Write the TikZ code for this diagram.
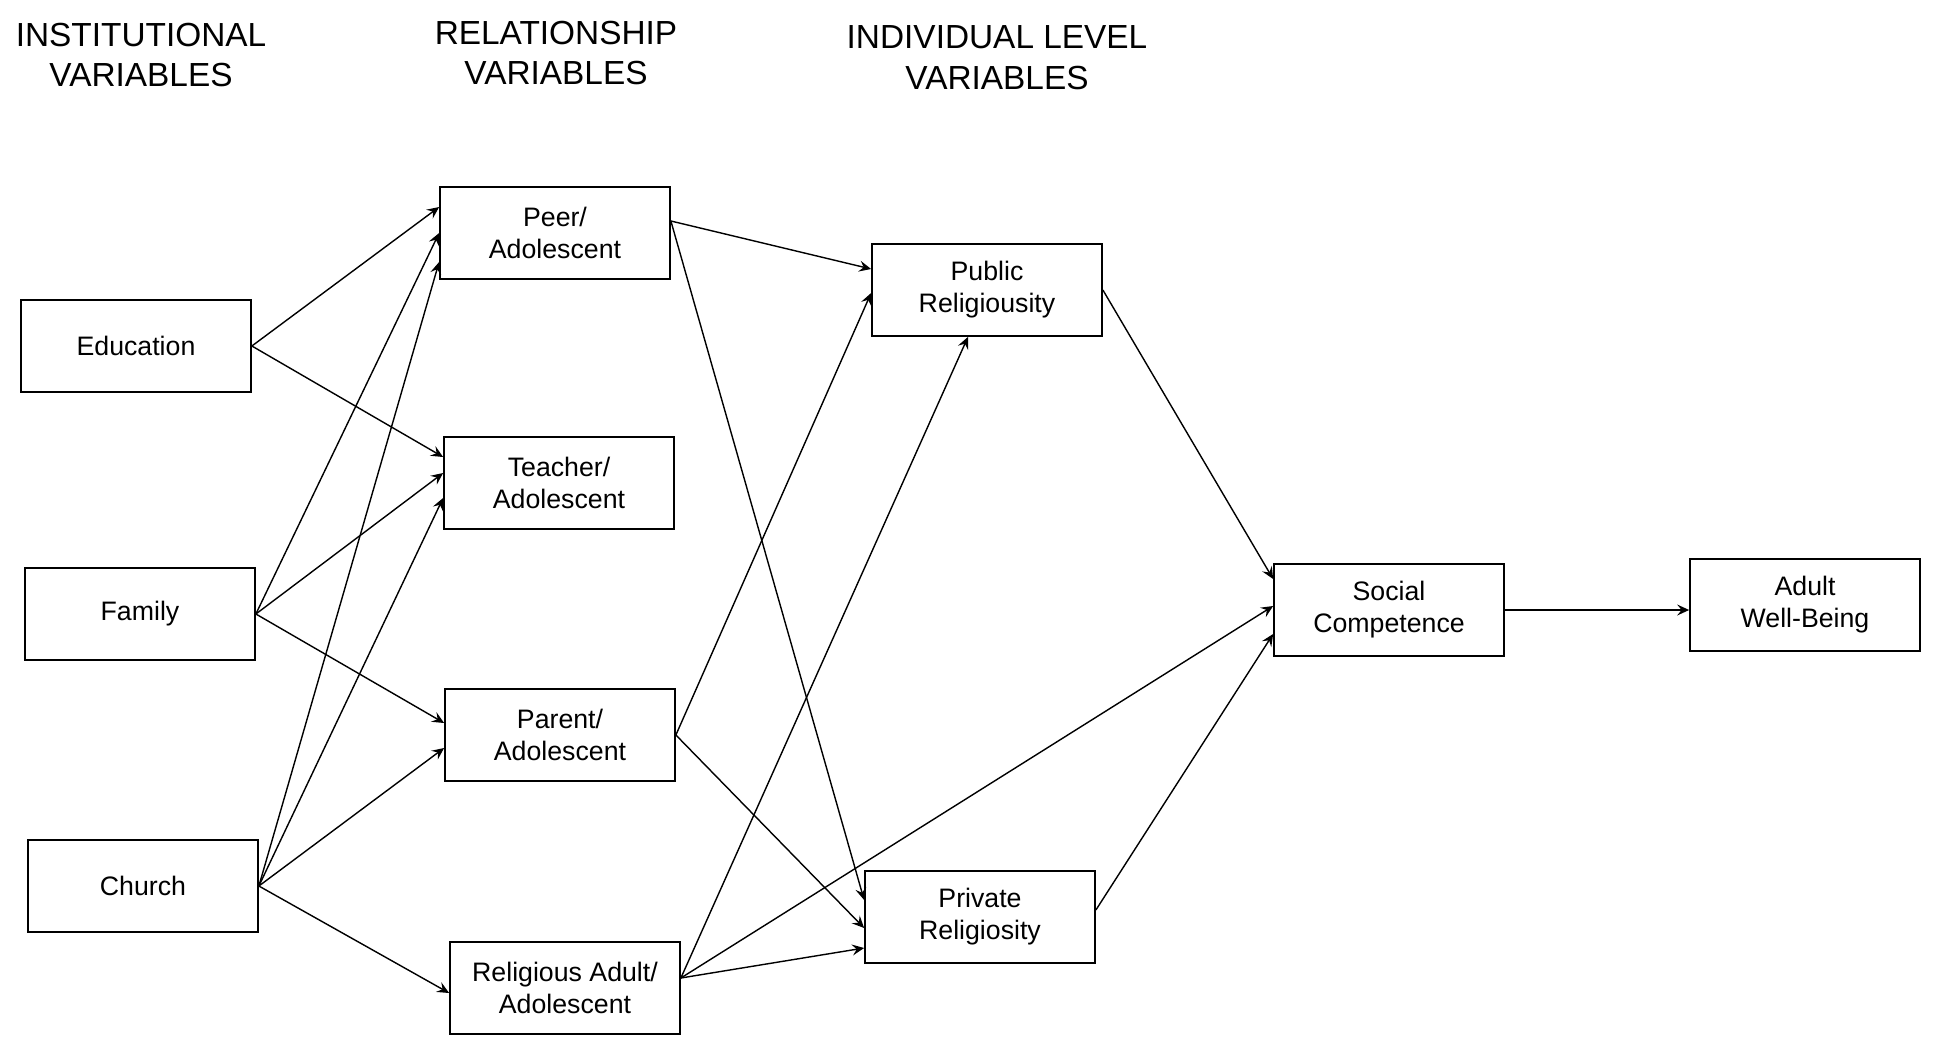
\documentclass[tikz,border=0pt]{standalone}
\usepackage{fontspec}
\setmainfont{Liberation Sans}
\usetikzlibrary{arrows.meta}

\begin{document}
\begin{tikzpicture}[
    every node/.style={font=\fontsize{15.2}{18.2}\selectfont},
    varbox/.style={draw, line width=1pt, minimum width=4.6cm, minimum height=1.84cm,
                   align=center, inner sep=0pt},
    heading/.style={font=\fontsize{19}{23.3}\selectfont, align=center},
    link/.style={-{Stealth[length=2.4mm,width=2.2mm,inset=0.9mm]}, line width=0.8pt}
]

\useasboundingbox (0,0) rectangle (38.68,-21.22);

% =========================================================
% Column headings
% =========================================================

\node[heading] (hinst)  at (2.82,-1.10)  {INSTITUTIONAL\\VARIABLES};
\node[heading] (hrel)   at (11.12,-1.06) {RELATIONSHIP\\VARIABLES};
\node[heading] (hindiv) at (19.94,-1.16) {INDIVIDUAL LEVEL\\VARIABLES};


% =========================================================
% Institutional variables
% =========================================================

\node[varbox] (educ)   at (2.72,-6.92)  {Education};
\node[varbox] (family) at (2.80,-12.28) {Family};
\node[varbox] (church) at (2.86,-17.72) {Church};


% =========================================================
% Relationship variables
% =========================================================

\node[varbox] (peer)    at (11.10,-4.66)  {Peer/\\Adolescent};
\node[varbox] (teacher) at (11.18,-9.66)  {Teacher/\\Adolescent};
\node[varbox] (parent)  at (11.20,-14.70) {Parent/\\Adolescent};
\node[varbox] (relig)   at (11.30,-19.76) {Religious Adult/\\Adolescent};


% =========================================================
% Individual level variables and outcomes
% =========================================================

\node[varbox] (public)  at (19.74,-5.80)  {Public\\Religiousity};
\node[varbox] (private) at (19.60,-18.34) {Private\\Religiosity};

\node[varbox] (social) at (27.78,-12.20) {Social\\Competence};
\node[varbox] (adult)  at (36.10,-12.10) {Adult\\Well-Being};


% =========================================================
% Institutional -> relationship
% =========================================================

\draw[link] (educ.east) -- ([yshift=0.52cm]peer.west);
\draw[link] (educ.east) -- ([yshift=0.52cm]teacher.west);

\draw[link] (family.east) -- (peer.west);
\draw[link] (family.east) -- ([yshift=0.2cm]teacher.west);
\draw[link] (family.east) -- ([yshift=0.24cm]parent.west);

\draw[link] (church.east) -- ([yshift=-0.58cm]peer.west);
\draw[link] (church.east) -- ([yshift=-0.3cm]teacher.west);
\draw[link] (church.east) -- ([yshift=-0.26cm]parent.west);
\draw[link] (church.east) -- ([yshift=-0.1cm]relig.west);


% =========================================================
% Relationship -> individual level
% =========================================================

\draw[link] ([yshift=0.24cm]peer.east) -- ([yshift=0.42cm]public.west);
\draw[link] ([yshift=0.24cm]peer.east) -- ([yshift=0.34cm]private.west);

\draw[link] (parent.east) -- ([yshift=-0.06cm]public.west);
\draw[link] (parent.east) -- ([yshift=-0.22cm]private.west);

\draw[link] ([yshift=0.2cm]relig.east) -- ([xshift=-0.38cm]public.south);
\draw[link] ([yshift=0.2cm]relig.east) -- ([yshift=0.08cm]social.west);
\draw[link] ([yshift=0.2cm]relig.east) -- ([yshift=-0.62cm]private.west);


% =========================================================
% Individual level -> outcomes
% =========================================================

\draw[link] (public.east) -- ([yshift=0.62cm]social.west);
\draw[link] ([yshift=0.14cm]private.east) -- ([yshift=-0.48cm]social.west);
\draw[link] (social.east) -- (social.east -| adult.west);

\end{tikzpicture}
\end{document}
